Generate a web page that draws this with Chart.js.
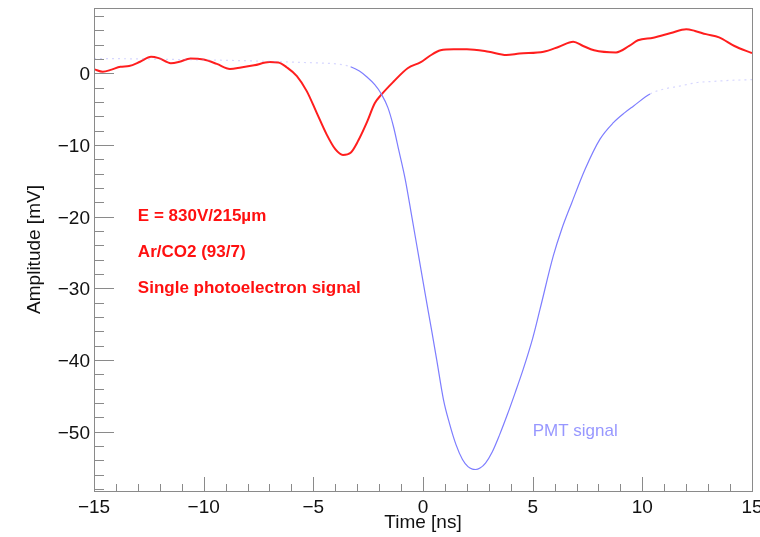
<!DOCTYPE html>
<html>
<head>
<meta charset="utf-8">
<script src="https://cdn.jsdelivr.net/npm/chart.js@4"></script>
<style>
    html, body { margin: 0; padding: 0; background: #fff; }
    #wrap { width: 760px; height: 537px; }
</style>
</head>
<body>
<div id="wrap"><canvas id="signalChart" width="760" height="537"></canvas></div>
<script>
// Micromegas single photoelectron pulse vs PMT reference pulse
const meshTime = [-15, -14.6, -14.2, -13.8, -13.4, -12.9, -12.4, -12.05, -11.5, -11.1, -10.6, -10.0,
    -9.4, -8.8, -8.3, -7.7, -7.0, -6.6, -6.2, -5.75, -5.3, -4.85, -4.4, -4.0, -3.65, -3.3, -2.95,
    -2.55, -2.2, -1.9, -1.35, -0.7, -0.1, 0.3, 0.8, 1.4, 2.0, 3.0, 3.8, 4.4, 5.5, 6.2, 6.85, 7.3,
    7.8, 8.8, 9.4, 9.8, 10.5, 11.3, 12.0, 12.4, 12.9, 13.5, 14.2, 15.0];
const meshAmp = [0.55, 0.2, 0.5, 0.9, 1.0, 1.6, 2.3, 2.1, 1.4, 1.6, 2.05, 1.9,
    1.3, 0.6, 0.8, 1.1, 1.55, 1.5, 0.8, -0.4, -2.5, -5.5, -8.5, -10.6, -11.4, -11.1, -9.4,
    -6.8, -4.2, -3.0, -1.2, 0.7, 1.55, 2.4, 3.2, 3.35, 3.35, 3.0, 2.55, 2.75, 3.0, 3.7, 4.4, 3.8,
    3.2, 2.9, 3.8, 4.6, 4.95, 5.6, 6.15, 5.9, 5.45, 5.0, 3.8, 2.8];

const pmtTime = [-15, -13, -11, -9, -7, -5.5, -4.5, -3.8, -3.3, -2.9, -2.57, -2.2, -1.9, -1.6,
    -1.35, -1.1, -0.81, -0.5, -0.2, 0.1, 0.4, 0.62, 0.93, 1.2, 1.5, 1.8, 2.05, 2.25, 2.4, 2.6,
    2.85, 3.15, 3.5, 3.85, 4.2, 4.57, 5.0, 5.33, 5.94, 6.32, 6.78, 7.39, 8.07, 8.68, 9.2, 9.59,
    10.35, 11.0, 11.7, 12.5, 13.2, 14.0, 15.0];
const pmtAmp = [2.05, 2.0, 1.9, 1.8, 1.65, 1.5, 1.4, 1.25, 0.9, 0.3, -0.5, -1.6, -2.9, -4.8,
    -7.4, -10.8, -14.8, -20.2, -25.5, -30.8, -36.0, -39.9, -45.5, -48.8, -51.8, -53.9, -54.9, -55.25,
    -55.3, -55.1, -54.4, -52.9, -50.4, -47.6, -44.6, -41.3, -37.0, -33.0, -25.5, -21.8, -18.1, -13.4,
    -9.2, -6.9, -5.5, -4.6, -2.9, -2.2, -1.8, -1.3, -1.15, -1.0, -0.9];

const timeRange = [-15, 15];
const ampRange = [-58.3, 9.1];

// Text labels placed in data coordinates [time, amplitude]
const meshLabels = ['E = 830V/215\u00b5m', 'Ar/CO2 (93/7)', 'Single photoelectron signal'];
const meshLabelPos = [[-13, -20], [-13, -25], [-13, -30]];
const pmtLabel = 'PMT signal';
const pmtLabelPos = [5, -50];

const FONT = "'Liberation Sans', Arial, Helvetica, sans-serif";
const AXIS_GRAY = '#8a8a8a';

function toPoints(xs, ys) {
    return xs.map((x, i) => ({ x: x, y: ys[i] }));
}

function fmtMinus(v) {
    return String(v).replace('-', '\u2212');
}

// ROOT-style frame with inward major/minor ticks
const frameTicks = {
    id: 'frameTicks',
    afterDatasetsDraw(chart) {
        const { ctx, chartArea: a, scales } = chart;
        const xs = scales.x, ys = scales.y;
        ctx.save();
        ctx.strokeStyle = AXIS_GRAY;
        ctx.lineWidth = 1;
        ctx.strokeRect(a.left + 0.5, a.top + 0.5, a.right - a.left, a.bottom - a.top);

        ctx.beginPath();
        for (let t = timeRange[0]; t <= timeRange[1]; t++) {
            const px = Math.round(xs.getPixelForValue(t)) + 0.5;
            const len = (t % 5 === 0) ? 14 : 7;
            ctx.moveTo(px, a.bottom);
            ctx.lineTo(px, a.bottom - len);
        }
        for (let v = -58; v <= 8; v += 2) {
            const py = Math.round(ys.getPixelForValue(v)) + 0.5;
            const len = (v % 10 === 0) ? 20 : 10;
            ctx.moveTo(a.left, py);
            ctx.lineTo(a.left + len, py);
        }
        ctx.stroke();
        ctx.restore();
    },
    afterDraw(chart) {
        const { ctx, scales } = chart;
        ctx.save();
        ctx.textAlign = 'left';
        ctx.textBaseline = 'middle';
        ctx.font = 'bold 17px ' + FONT;
        ctx.fillStyle = '#ff1010';
        meshLabels.forEach((txt, i) => {
            const p = meshLabelPos[i];
            ctx.fillText(txt, scales.x.getPixelForValue(p[0]), scales.y.getPixelForValue(p[1]));
        });
        ctx.font = '17px ' + FONT;
        ctx.fillStyle = 'rgba(125, 125, 255, 0.8)';
        ctx.fillText(pmtLabel, scales.x.getPixelForValue(pmtLabelPos[0]), scales.y.getPixelForValue(pmtLabelPos[1]));
        ctx.restore();
    }
};

// flat stretches of the PMT trace come out faint and dotted
function pmtSlope(c) {
    return Math.abs((c.p1.parsed.y - c.p0.parsed.y) / (c.p1.parsed.x - c.p0.parsed.x));
}
function pmtSegmentColor(c) {
    return pmtSlope(c) < 1.3 && c.p0.parsed.y > -10 ? 'rgba(140, 140, 255, 0.35)' : 'rgb(125, 125, 255)';
}
function pmtSegmentDash(c) {
    return pmtSlope(c) < 1.3 && c.p0.parsed.y > -10 ? [2, 4] : undefined;
}

const ctx = document.getElementById('signalChart').getContext('2d');
new Chart(ctx, {
    type: 'scatter',
    data: {
        datasets: [
            {
                label: 'PMT signal',
                data: toPoints(pmtTime, pmtAmp),
                showLine: true,
                borderColor: 'rgb(125, 125, 255)',
                borderWidth: 1.2,
                pointRadius: 0,
                cubicInterpolationMode: 'monotone',
                segment: {
                    borderColor: pmtSegmentColor,
                    borderDash: pmtSegmentDash
                }
            },
            {
                label: 'Single photoelectron signal',
                data: toPoints(meshTime, meshAmp),
                showLine: true,
                borderColor: 'rgb(255, 30, 30)',
                borderWidth: 2,
                pointRadius: 0,
                cubicInterpolationMode: 'monotone'
            }
        ]
    },
    options: {
        responsive: false,
        animation: false,
        layout: { padding: { top: 8, right: 8, left: 0, bottom: 0 } },
        plugins: {
            legend: { display: false },
            tooltip: { enabled: false }
        },
        scales: {
            x: {
                type: 'linear',
                min: timeRange[0],
                max: timeRange[1],
                grid: { display: false, drawTicks: false },
                border: { display: false },
                ticks: {
                    stepSize: 5,
                    autoSkip: false,
                    maxRotation: 0,
                    padding: 5,
                    color: '#111',
                    font: { family: FONT, size: 19 },
                    callback: v => fmtMinus(v)
                },
                title: {
                    display: true,
                    text: 'Time [ns]',
                    color: '#111',
                    font: { family: FONT, size: 19 },
                    padding: { top: 0, bottom: 3 }
                },
                afterFit: s => {
                    s.height = 46;
                    s.paddingLeft = 0;
                    s.paddingRight = 0;
                }
            },
            y: {
                type: 'linear',
                min: ampRange[0],
                max: ampRange[1],
                grid: { display: false, drawTicks: false },
                border: { display: false },
                ticks: {
                    stepSize: 10,
                    includeBounds: false,
                    autoSkip: false,
                    padding: 4,
                    labelOffset: 2,
                    color: '#111',
                    font: { family: FONT, size: 19 },
                    callback: v => fmtMinus(v)
                },
                title: {
                    display: true,
                    text: 'Amplitude [mV]',
                    color: '#111',
                    font: { family: FONT, size: 19 },
                    padding: { top: 23, bottom: 0 }
                },
                afterFit: s => {
                    s.width = 94;
                    s.paddingTop = 0;
                    s.paddingBottom = 0;
                }
            }
        }
    },
    plugins: [frameTicks]
});
</script>
</body>
</html>
